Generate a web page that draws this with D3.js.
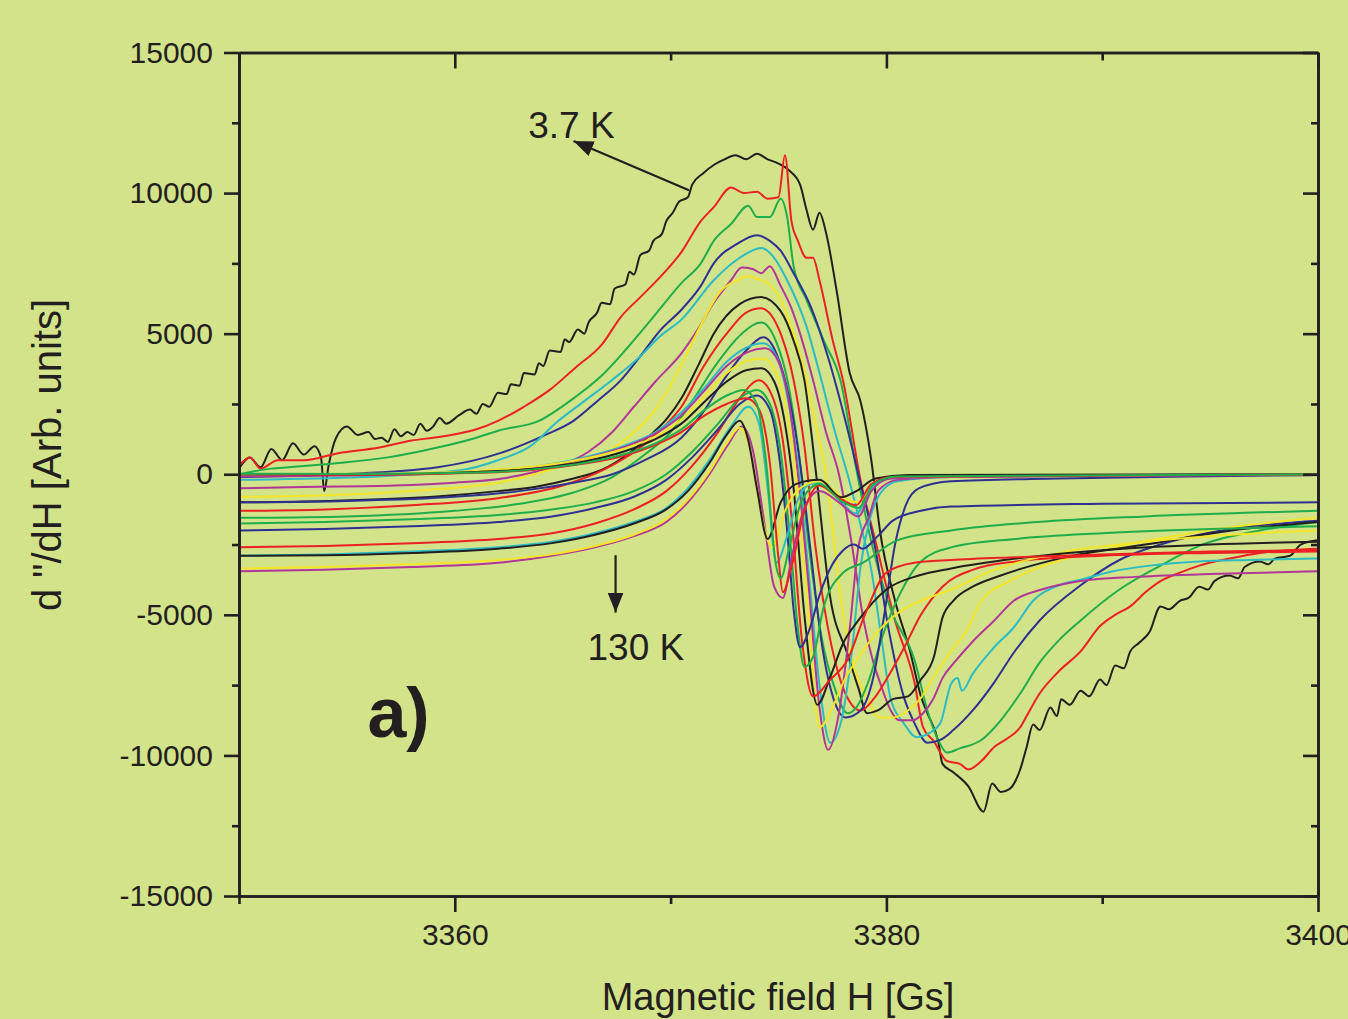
<!DOCTYPE html>
<html>
<head>
<meta charset="utf-8">
<script src="https://cdn.jsdelivr.net/npm/d3@7"></script>
<style>
  html, body { margin: 0; padding: 0; background: #d3e389; }
  svg { display: block; }
  text { font-family: "Liberation Sans", Arial, Helvetica, sans-serif; fill: #231f20; }
</style>
</head>
<body>
<svg id="chart" width="1348" height="1019"></svg>
<script>
// ---------------- data (field H [Gs], signal [arb. units]) ----------------
const xTicksMajor = [3360, 3380, 3400];
const xTicksMinor = [3350, 3370, 3390];
const yTicksMajor = [-15000, -10000, -5000, 0, 5000, 10000, 15000];
const yTickLabels = ["-15000", "-10000", "-5000", "0", "5000", "10000", "15000"];
const yTicksMinor = [-12500, -7500, -2500, 2500, 7500, 12500];
const palette = ["#231f20", "#ed2024", "#1fae4b", "#2e3192", "#2bbcc4", "#b2369a", "#f4e526"];

const s01 = [[3350,200],[3350.5,600],[3351,250],[3351.5,900],[3352,500],[3352.5,1100],[3353,700],[3353.5,1000],[3353.8,600],[3353.95,-600],[3354.15,300],[3354.5,1300],[3355,1700],[3355.5,1400],[3356,1500],[3356.3,1250],[3356.6,1300],[3356.9,1150],[3357.2,1600],[3357.5,1350],[3357.8,1500],[3358.1,1400],[3358.4,1800],[3358.7,1550],[3359,1700],[3359.3,2000],[3359.6,1800],[3360.2,2100],[3360.7,2300],[3361,2150],[3361.3,2500],[3361.6,2400],[3362,2900],[3362.4,2850],[3362.6,3200],[3363,3150],[3363.2,3600],[3363.7,3550],[3363.9,3950],[3364.1,3850],[3364.4,4400],[3364.9,4350],[3365.1,4800],[3365.3,4700],[3365.7,5150],[3366,5000],[3366.2,5400],[3366.6,5750],[3366.8,6100],[3367.2,6050],[3367.4,6600],[3367.9,6750],[3368.1,7200],[3368.3,7100],[3368.6,7800],[3369,7950],[3369.2,8300],[3369.6,8550],[3369.8,9000],[3370.1,9300],[3370.4,9700],[3370.8,9850],[3371,10300],[3371.5,10700],[3372,11000],[3372.5,11200],[3373,11350],[3373.5,11200],[3374,11400],[3374.5,11200],[3375,11050],[3375.5,10800],[3376,10300],[3376.3,9400],[3376.6,8700],[3376.9,9300],[3377.2,8600],[3377.7,6500],[3378.3,3600],[3378.8,2600],[3379.3,500],[3379.7,-2000],[3380.4,-4500],[3381.1,-6300],[3381.6,-7900],[3381.9,-8500],[3382.4,-9500],[3382.6,-10300],[3383.1,-10600],[3383.8,-11100],[3384.5,-12000],[3384.9,-11000],[3385.3,-11300],[3385.7,-11200],[3386.2,-10500],[3386.5,-9700],[3386.8,-8900],[3387.1,-9100],[3387.6,-8300],[3387.9,-8600],[3388.1,-8000],[3388.5,-8200],[3389,-7700],[3389.4,-7900],[3389.9,-7300],[3390.2,-7500],[3390.6,-6800],[3391,-6900],[3391.3,-6300],[3391.7,-6000],[3392.2,-5600],[3392.7,-4700],[3393.1,-4800],[3393.6,-4500],[3394,-4400],[3394.5,-4000],[3394.9,-4100],[3395.2,-3800],[3395.9,-3600],[3396.3,-3700],[3396.6,-3300],[3397.3,-3100],[3397.7,-3200],[3398,-3000],[3398.7,-2900],[3399.2,-2500],[3400,-2350]];
const s02 = [[3350,300],[3350.5,600],[3351,200],[3351.8,500],[3353,500],[3354.6,750],[3356.5,950],[3358,1200],[3359,1300],[3360.2,1450],[3361,1600],[3362,1900],[3363.2,2400],[3364.4,3000],[3365.6,3800],[3366.8,4600],[3367.7,5600],[3368.6,6300],[3369.5,7000],[3370.5,7900],[3371.4,9000],[3372,9500],[3372.8,10200],[3373.4,10000],[3374,10050],[3374.5,9800],[3375,9850],[3375.3,11350],[3375.6,9000],[3375.9,8300],[3376.3,7700],[3376.6,7700],[3376.9,6900],[3377.5,4800],[3378,3300],[3378.8,-200],[3379.5,-2400],[3380.4,-5200],[3381.3,-7400],[3381.7,-9000],[3382.2,-9500],[3382.8,-10200],[3383.4,-10300],[3383.8,-10500],[3384.4,-10200],[3385,-9700],[3385.6,-9400],[3386.2,-9000],[3386.5,-8600],[3387.1,-7800],[3388,-7000],[3389,-6300],[3389.9,-5400],[3390.6,-5000],[3391.3,-4700],[3392,-4200],[3392.7,-3800],[3393.6,-3500],[3394.5,-3250],[3395.9,-3000],[3397.3,-2800],[3398.7,-2700],[3400,-2650]];
const s03 = [[3350,0],[3351.5,200],[3352.3,250],[3354.6,400],[3356.9,600],[3359.2,950],[3361,1300],[3362,1550],[3363.9,1900],[3365.5,2700],[3366.8,3500],[3368,4500],[3369.1,5500],[3370.5,6800],[3371.4,7500],[3372,8300],[3372.8,8900],[3373.6,9550],[3374,9150],[3374.6,9150],[3375.1,9800],[3375.4,9150],[3375.7,7400],[3376.3,6200],[3377.1,4750],[3377.9,3250],[3378.6,200],[3379.3,-2400],[3380.2,-4800],[3381.3,-6600],[3381.9,-8400],[3382.4,-9450],[3382.8,-9900],[3383.4,-9750],[3384.4,-9450],[3385.3,-8750],[3386.2,-7800],[3387.1,-6700],[3388,-5900],[3389,-5200],[3390.8,-4100],[3392.7,-3250],[3394.5,-2550],[3397.3,-2000],[3400,-1700]];
const s04 = [[3350,-100],[3354.6,0],[3359.2,250],[3362.1,750],[3364.2,1400],[3365.5,1900],[3366.6,2600],[3367.7,3350],[3368.6,4200],[3369.5,5100],[3370.5,5850],[3371.4,6700],[3372,7500],[3373.1,8200],[3374,8500],[3374.6,8300],[3375.1,7950],[3375.7,7150],[3376.5,5950],[3377.3,4150],[3378.1,1900],[3378.7,0],[3379.5,-2700],[3380.1,-5500],[3380.8,-7900],[3381.3,-8850],[3381.9,-9550],[3382.5,-9450],[3383.1,-9100],[3384,-8400],[3385,-7400],[3385.9,-6350],[3387.1,-5200],[3389,-3950],[3390.8,-3050],[3392.7,-2500],[3395.5,-2000],[3400,-1650]];
const s05 = [[3350,-200],[3355.7,-100],[3360.3,150],[3362,500],[3363.5,1000],[3364.8,1900],[3366,2600],[3367.2,3300],[3368.6,4200],[3369.5,4900],[3370.5,5500],[3372,6900],[3373.2,7700],[3374.2,8050],[3374.8,7700],[3375.4,6900],[3376.3,5250],[3376.9,3600],[3377.6,1550],[3378.2,0],[3378.8,-1800],[3379.3,-3400],[3379.8,-6000],[3380.2,-8000],[3380.8,-8850],[3381.4,-9350],[3382,-9200],[3382.5,-8850],[3383,-7450],[3383.3,-7250],[3383.5,-7700],[3384,-7100],[3385,-6150],[3385.9,-5450],[3386.8,-4500],[3388,-3950],[3389,-3750],[3390.5,-3450],[3392.2,-3250],[3394.5,-3100],[3396.8,-3050],[3400,-3000]];
const s06 = [[3350,-500],[3353,-450],[3357.2,-400],[3360,-300],[3362.2,-150],[3363.8,100],[3365,350],[3366.2,800],[3367.3,1500],[3368.3,2400],[3369.3,3300],[3370.5,4300],[3371.3,5200],[3372,6100],[3372.8,6900],[3373.3,7350],[3373.8,7300],[3374.2,7150],[3374.6,7400],[3375.1,6700],[3375.6,5900],[3376,5000],[3376.6,3350],[3377.2,1500],[3377.8,0],[3378.4,-2500],[3378.9,-5000],[3379.4,-6700],[3379.7,-7400],[3380.2,-8400],[3380.6,-8750],[3381.2,-8750],[3381.7,-8500],[3382.2,-7950],[3382.6,-7250],[3383.2,-6650],[3384,-5950],[3385,-5200],[3385.9,-4500],[3387.2,-4100],[3389,-3800],[3391.5,-3650],[3395,-3550],[3400,-3450]];
const s07 = [[3350,-800],[3354,-750],[3358.8,-550],[3362,-300],[3363.7,0],[3365,300],[3366.8,700],[3368,1300],[3369.2,2200],[3369.8,2900],[3370.5,3900],[3371.4,5300],[3372.3,6500],[3373.1,6900],[3373.6,7050],[3374,6950],[3374.5,6800],[3375.1,6200],[3375.7,5000],[3376.3,3350],[3376.8,1500],[3377.2,0],[3377.9,-4500],[3378.5,-6850],[3379.1,-7950],[3379.7,-8650],[3380.3,-8650],[3381,-8400],[3381.6,-7950],[3382.2,-7200],[3382.8,-6500],[3383.8,-5450],[3384.4,-4500],[3385.7,-3800],[3388.1,-3050],[3390,-2700],[3392.2,-2350],[3394.5,-2050],[3396.9,-1800],[3400,-1550]];
const s08 = [[3350,-1000],[3354,-950],[3359,-800],[3362,-600],[3363.7,-450],[3365.5,-150],[3366.8,150],[3368,700],[3369,1350],[3369.8,1950],[3370.5,2700],[3371.3,3900],[3372,5000],[3373.2,6050],[3374.2,6300],[3375.1,5800],[3375.7,4750],[3376.2,3350],[3376.7,300],[3377.4,-4400],[3378.2,-6400],[3378.7,-7600],[3379.1,-8500],[3379.6,-8400],[3380.3,-8000],[3381,-7900],[3381.6,-7300],[3382.2,-6500],[3382.6,-5100],[3383.1,-4500],[3384,-4000],[3385.3,-3600],[3388,-3000],[3392,-2500],[3396,-2000],[3400,-1700]];
const s09 = [[3350,-1300],[3354,-1250],[3358,-1100],[3362,-850],[3365,-400],[3367,200],[3368.5,900],[3369.7,1700],[3370.5,2400],[3371.5,3800],[3372.7,5100],[3373.5,5750],[3374.2,5900],[3375.1,5000],[3375.7,3350],[3376.2,1000],[3376.7,-2500],[3377.3,-5500],[3377.9,-7400],[3378.4,-8200],[3378.8,-8400],[3379.4,-8000],[3380,-7300],[3380.8,-6200],[3381.6,-5000],[3382.6,-4000],[3384,-3400],[3386,-3100],[3390,-2900],[3395,-2800],[3400,-2750]];
const s10 = [[3350,-1550],[3355,-1500],[3360,-1300],[3363,-1050],[3365.5,-650],[3367.3,-100],[3368.8,700],[3370,1500],[3371,2600],[3372.2,4000],[3373.3,5000],[3374.2,5400],[3374.9,4700],[3375.4,3400],[3375.9,1000],[3376.4,-2500],[3377,-5800],[3377.6,-7600],[3378.2,-8500],[3378.6,-8300],[3379.2,-7300],[3379.8,-5800],[3380.6,-4300],[3381.6,-3100],[3383,-2600],[3386,-2300],[3390,-2100],[3395,-1950],[3400,-1850]];
const s11 = [[3350,-1000],[3355,-950],[3360,-800],[3363,-600],[3365.5,-300],[3367.3,0],[3368.8,500],[3370.5,1300],[3371.5,2200],[3372.5,3400],[3373.5,4400],[3374.3,4870],[3374.9,4300],[3375.5,2700],[3376,400],[3376.5,-2800],[3377,-6000],[3377.6,-8100],[3378.1,-8650],[3378.8,-8400],[3379.4,-7200],[3379.9,-5000],[3380.4,-2500],[3380.9,-1100],[3381.5,-500],[3383,-250],[3388,-150],[3394,-80],[3400,-30]];
const s12 = [[3350,-50],[3356,0],[3361,100],[3364,300],[3366,600],[3367.8,1000],[3369.3,1500],[3370.5,2200],[3371.6,3100],[3372.6,4000],[3373.5,4500],[3374.3,4660],[3374.9,4200],[3375.4,2800],[3375.9,300],[3376.4,-3500],[3376.9,-7500],[3377.4,-9550],[3377.9,-8800],[3378.4,-6300],[3378.8,-3300],[3379.2,-1700],[3379.7,-700],[3380.5,-250],[3383,-100],[3390,-50],[3400,0]];
const s13 = [[3350,-80],[3356,-30],[3361,80],[3364,250],[3366,550],[3367.8,950],[3369.3,1450],[3370.5,2100],[3371.6,3000],[3372.6,3850],[3373.6,4350],[3374.4,4480],[3375,4000],[3375.5,2500],[3375.9,0],[3376.4,-4000],[3376.9,-8300],[3377.3,-9800],[3377.8,-8500],[3378.3,-5500],[3378.7,-2600],[3379.2,-1500],[3379.6,-600],[3380.5,-200],[3383,-100],[3390,-60],[3400,-20]];
const s14 = [[3350,0],[3356,20],[3361,120],[3364,300],[3366,550],[3367.8,900],[3369.3,1350],[3370.5,1950],[3371.6,2800],[3372.6,3600],[3373.6,4050],[3374.3,4120],[3374.9,3600],[3375.4,2200],[3375.8,0],[3376.3,-4200],[3376.9,-9000],[3377.5,-8300],[3378,-7400],[3378.8,-6400],[3379.6,-5600],[3380.6,-4900],[3381.6,-4500],[3383,-4100],[3385,-3400],[3388,-2800],[3392,-2400],[3396,-2150],[3400,-2000]];
const s15 = [[3350,0],[3356,0],[3361,80],[3364,220],[3366,450],[3367.8,800],[3369.3,1250],[3370.5,1800],[3371.6,2600],[3372.6,3300],[3373.5,3700],[3374.2,3770],[3374.8,3300],[3375.3,1800],[3375.7,-500],[3376.2,-5000],[3376.8,-8200],[3377.4,-7200],[3378,-6000],[3378.7,-5200],[3380,-4100],[3381.5,-3600],[3383,-3350],[3386,-3000],[3390,-2700],[3395,-2500],[3400,-2400]];
const s16 = [[3350,-2600],[3354,-2550],[3358,-2450],[3362,-2300],[3364.5,-2100],[3366.5,-1750],[3368.3,-1250],[3369.8,-600],[3371,300],[3372.2,1500],[3373.2,2700],[3374.1,3340],[3374.7,2800],[3375.2,1200],[3375.6,-1500],[3376.1,-6000],[3376.6,-7900],[3377.4,-7300],[3378.2,-6600],[3379,-5000],[3380,-3500],[3381.3,-3150],[3383,-3050],[3386,-2950],[3390,-2850],[3395,-2750],[3400,-2700]];
const s17 = [[3350,-1750],[3354,-1700],[3358,-1600],[3362,-1450],[3364.5,-1250],[3366.5,-1000],[3368.3,-600],[3369.8,0],[3371,800],[3372.2,1800],[3373.2,2700],[3374,3000],[3374.6,2500],[3375.1,800],[3375.5,-2000],[3375.9,-5500],[3376.2,-6850],[3376.6,-6500],[3377.1,-4700],[3378,-3500],[3378.9,-3150],[3380.5,-2350],[3383,-2000],[3387,-1700],[3392,-1500],[3400,-1300]];
const s18 = [[3350,-2000],[3354,-1950],[3358,-1850],[3362,-1700],[3364.5,-1500],[3366.5,-1200],[3368.3,-800],[3369.8,-200],[3371,600],[3372.2,1600],[3373.2,2500],[3374,2800],[3374.6,2300],[3375,800],[3375.4,-2000],[3375.7,-4800],[3376,-6150],[3376.4,-5600],[3376.9,-4300],[3377.5,-3200],[3378,-2700],[3378.5,-2500],[3378.9,-2650],[3379.6,-2200],[3380.3,-1650],[3381.6,-1300],[3383,-1150],[3390,-1050],[3400,-1000]];
const s19 = [[3350,-2900],[3354,-2850],[3358,-2750],[3362,-2600],[3364.5,-2400],[3366.5,-2100],[3368.3,-1700],[3369.8,-1200],[3370.8,-500],[3371.8,500],[3372.8,1700],[3373.6,2400],[3374.1,1800],[3374.5,-500],[3374.9,-3150],[3375.4,-2200],[3375.9,-900],[3376.5,-350],[3377.1,-300],[3377.8,-900],[3378.6,-1400],[3379.3,-500],[3380.2,-150],[3385,-50],[3400,0]];
const s20 = [[3350,-3450],[3354,-3400],[3358,-3300],[3362,-3150],[3364.5,-2900],[3366.5,-2600],[3368.3,-2200],[3369.8,-1700],[3370.8,-1000],[3371.8,0],[3372.7,1100],[3373.3,1700],[3373.8,900],[3374.3,-1500],[3374.8,-4000],[3375.2,-4400],[3375.6,-3000],[3376.2,-1200],[3376.9,-600],[3377.8,-1000],[3378.7,-1500],[3379.3,-600],[3380.2,-150],[3385,-50],[3400,0]];
const s21 = [[3350,-3350],[3354,-3300],[3358,-3200],[3362,-3050],[3364.5,-2850],[3366.5,-2550],[3368.3,-2150],[3369.8,-1600],[3370.8,-900],[3371.8,100],[3372.6,1100],[3373.2,1650],[3373.7,800],[3374.1,-1000],[3374.7,-2600],[3375.3,-1300],[3376,-500],[3376.9,-250],[3377.9,-800],[3378.7,-1000],[3379.4,-300],[3380.5,-80],[3400,0]];
const s22 = [[3350,-2900],[3354,-2880],[3358,-2800],[3362,-2650],[3364.5,-2450],[3366.5,-2150],[3368.3,-1750],[3369.8,-1250],[3370.8,-600],[3371.8,400],[3372.6,1400],[3373.2,1900],[3373.6,1200],[3374,-500],[3374.5,-2300],[3375.1,-1000],[3375.8,-350],[3376.9,-200],[3377.9,-820],[3378.6,-600],[3379.5,-150],[3381,-30],[3400,0]];
const s23 = [[3350,0],[3356,-20],[3361,50],[3364,180],[3366,380],[3367.8,650],[3369.3,1050],[3370.5,1500],[3371.6,2100],[3372.6,2500],[3373.5,2700],[3374.1,2300],[3374.6,400],[3375,-3000],[3375.2,-4200],[3375.6,-3300],[3376.2,-1300],[3376.9,-400],[3377.8,-850],[3378.6,-1100],[3379.3,-350],[3380.3,-100],[3400,0]];
const s24 = [[3350,20],[3356,10],[3361,60],[3364,200],[3366,400],[3367.8,700],[3369.3,1100],[3370.5,1600],[3371.6,2300],[3372.6,2800],[3373.4,3000],[3374,2500],[3374.4,600],[3374.9,-3300],[3375.1,-3700],[3375.5,-2600],[3376.1,-900],[3376.9,-350],[3377.9,-950],[3378.7,-1200],[3379.4,-350],[3380.5,-80],[3400,0]];
const series = [s01,s02,s03,s04,s05,s06,s07,s08,s09,s10,s11,s12,s13,s14,s15,s16,s17,s18,s19,s20,s21,s22,s23,s24];

// annotations in data coordinates
const annoLow = { text: "3.7 K", x: 3363.4, y: 11950 };
const annoHigh = { text: "130 K", x: 3366.15, y: -6620 };
const arrowLow = [[3370.85, 10100], [3365.5, 11850]];
const arrowHigh = [[3367.45, -2880], [3367.45, -4920]];
const panelLabel = { text: "a)", x: 3355.95, y: -9350 };

// ---------------- drawing ----------------
const svg = d3.select("#chart");
const ink = "#231f20";
const L = 239, R = 1318, T = 52.5, B = 896;
const x = d3.scaleLinear().domain([3350, 3400]).range([L, R]);
const y = d3.scaleLinear().domain([-15000, 15000]).range([B, T]);

svg.append("rect").attr("width", 1348).attr("height", 1019).attr("fill", "#d3e389");

svg.append("defs").append("clipPath").attr("id", "plot")
  .append("rect").attr("x", L).attr("y", T).attr("width", R - L).attr("height", B - T);

const line = d3.line().x(d => x(d[0])).y(d => y(d[1])).curve(d3.curveMonotoneX);

svg.append("g").attr("clip-path", "url(#plot)")
  .selectAll("path").data(series).join("path")
  .attr("d", line)
  .attr("fill", "none")
  .attr("stroke", (d, i) => palette[i % palette.length])
  .attr("stroke-width", 2)
  .attr("stroke-linejoin", "round");

function styleAxis(g) {
  g.selectAll("path.domain").attr("stroke", ink).attr("stroke-width", 2.6);
  g.selectAll(".tick line").attr("stroke", ink).attr("stroke-width", 2.6);
  g.selectAll(".tick text").attr("fill", ink).style("font-size", "30px")
    .style("font-family", '"Liberation Sans", Arial, sans-serif');
}

// bottom axis
svg.append("g").attr("transform", `translate(0,${B})`)
  .call(d3.axisBottom(x).tickValues(xTicksMajor).tickSize(16).tickSizeOuter(0).tickPadding(12).tickFormat(d3.format("d")))
  .call(styleAxis);
svg.append("g").attr("transform", `translate(0,${B})`)
  .call(d3.axisBottom(x).tickValues(xTicksMinor).tickSize(8).tickSizeOuter(0).tickFormat(""))
  .call(styleAxis);
// top axis (ticks inward)
svg.append("g").attr("transform", `translate(0,${T})`)
  .call(d3.axisBottom(x).tickValues(xTicksMajor).tickSize(16).tickSizeOuter(0).tickFormat(""))
  .call(styleAxis);
svg.append("g").attr("transform", `translate(0,${T})`)
  .call(d3.axisBottom(x).tickValues(xTicksMinor).tickSize(8).tickSizeOuter(0).tickFormat(""))
  .call(styleAxis);
// left axis
svg.append("g").attr("transform", `translate(${L},0)`)
  .call(d3.axisLeft(y).tickValues(yTicksMajor).tickSize(15).tickSizeOuter(0).tickPadding(11)
    .tickFormat((d, i) => yTickLabels[i]))
  .call(styleAxis);
svg.append("g").attr("transform", `translate(${L},0)`)
  .call(d3.axisLeft(y).tickValues(yTicksMinor).tickSize(7).tickSizeOuter(0).tickFormat(""))
  .call(styleAxis);
// right axis (ticks inward)
svg.append("g").attr("transform", `translate(${R},0)`)
  .call(d3.axisLeft(y).tickValues(yTicksMajor).tickSize(15).tickSizeOuter(0).tickFormat(""))
  .call(styleAxis);
svg.append("g").attr("transform", `translate(${R},0)`)
  .call(d3.axisLeft(y).tickValues(yTicksMinor).tickSize(7).tickSizeOuter(0).tickFormat(""))
  .call(styleAxis);

// axis titles
svg.append("text").attr("x", 778).attr("y", 1010).attr("text-anchor", "middle")
  .style("font-size", "38px").text("Magnetic field H [Gs]");
svg.append("text").attr("transform", "translate(61,455) rotate(-90)").attr("text-anchor", "middle")
  .style("font-size", "40px").text('d  "/dH [Arb. units]');

// arrows
svg.append("defs").append("marker").attr("id", "head")
  .attr("viewBox", "0 0 10 10").attr("refX", 10).attr("refY", 5)
  .attr("markerWidth", 9).attr("markerHeight", 9).attr("markerUnits", "strokeWidth")
  .attr("orient", "auto")
  .append("path").attr("d", "M0,1 L10,5 L0,9 Z").attr("fill", ink);

[arrowLow, arrowHigh].forEach(a => {
  svg.append("line")
    .attr("x1", x(a[0][0])).attr("y1", y(a[0][1]))
    .attr("x2", x(a[1][0])).attr("y2", y(a[1][1]))
    .attr("stroke", ink).attr("stroke-width", 2.2)
    .attr("marker-end", "url(#head)");
});

// labels
svg.append("text").attr("x", x(annoLow.x)).attr("y", y(annoLow.y)).style("font-size", "37px").text(annoLow.text);
svg.append("text").attr("x", x(annoHigh.x)).attr("y", y(annoHigh.y)).style("font-size", "37px").text(annoHigh.text);
svg.append("text").attr("x", x(panelLabel.x)).attr("y", y(panelLabel.y))
  .style("font-size", "70px").style("font-weight", "bold").text(panelLabel.text);
</script>
</body>
</html>
